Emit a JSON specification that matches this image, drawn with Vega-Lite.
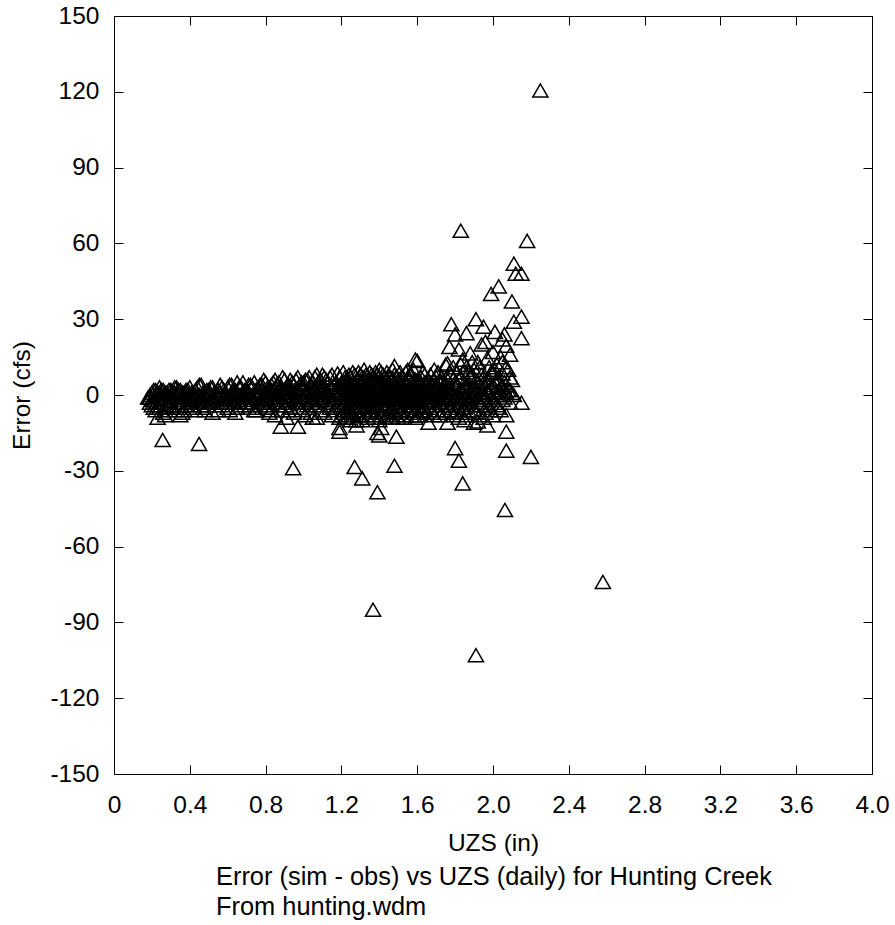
{
"$schema": "https://vega.github.io/schema/vega-lite/v6.json",
"width": 758, "height": 758,
"autosize": {"type": "none"},
"padding": {"left": 114, "top": 16, "right": 23, "bottom": 151},
"background": "white",
"config": {"view": {"stroke": "black", "strokeWidth": 1}, "font": "Liberation Sans"},
"title": {"text": ["Error (sim - obs) vs UZS (daily) for Hunting Creek", "From hunting.wdm"], "orient": "bottom", "anchor": "start", "frame": "group", "dx": 102, "offset": 10, "fontSize": 25.4, "fontWeight": "normal", "font": "Liberation Sans", "color": "black", "lineHeight": 30},
"data": {"values": [
{"uzs":0.18,"err":-1},{"uzs":0.20,"err":-2},{"uzs":0.20,"err":1},{"uzs":0.20,"err":-4},
{"uzs":0.22,"err":0},{"uzs":0.22,"err":-3},{"uzs":0.22,"err":2},{"uzs":0.22,"err":-6},
{"uzs":0.24,"err":-1},{"uzs":0.24,"err":1},{"uzs":0.24,"err":-5},{"uzs":0.24,"err":3},
{"uzs":0.26,"err":-2},{"uzs":0.26,"err":0},{"uzs":0.26,"err":-7},{"uzs":0.26,"err":2},
{"uzs":0.28,"err":-3},{"uzs":0.28,"err":1},{"uzs":0.28,"err":-1},{"uzs":0.28,"err":-5},
{"uzs":0.30,"err":0},{"uzs":0.30,"err":-4},{"uzs":0.30,"err":2},{"uzs":0.30,"err":-2},
{"uzs":0.32,"err":-1},{"uzs":0.32,"err":1},{"uzs":0.32,"err":-6},{"uzs":0.32,"err":3},
{"uzs":0.34,"err":-3},{"uzs":0.34,"err":0},{"uzs":0.34,"err":2},{"uzs":0.34,"err":-5},
{"uzs":0.36,"err":-2},{"uzs":0.36,"err":1},{"uzs":0.36,"err":-7},{"uzs":0.36,"err":0},
{"uzs":0.38,"err":-1},{"uzs":0.38,"err":2},{"uzs":0.38,"err":-4},{"uzs":0.38,"err":1},
{"uzs":0.40,"err":0},{"uzs":0.40,"err":-3},{"uzs":0.40,"err":3},{"uzs":0.40,"err":-1},
{"uzs":0.23,"err":-9},{"uzs":0.27,"err":-8},{"uzs":0.35,"err":-8},{"uzs":0.257,"err":-17.8},{"uzs":0.449,"err":-19.4},
{"uzs":0.42,"err":-2},{"uzs":0.42,"err":1},{"uzs":0.42,"err":-5},
{"uzs":0.44,"err":0},{"uzs":0.44,"err":3},{"uzs":0.44,"err":-3},
{"uzs":0.46,"err":-1},{"uzs":0.46,"err":4},{"uzs":0.46,"err":-4},
{"uzs":0.48,"err":1},{"uzs":0.48,"err":-2},{"uzs":0.48,"err":-6},
{"uzs":0.50,"err":0},{"uzs":0.50,"err":2},{"uzs":0.50,"err":-3},
{"uzs":0.52,"err":-1},{"uzs":0.52,"err":3},{"uzs":0.52,"err":-7},
{"uzs":0.54,"err":1},{"uzs":0.54,"err":-2},{"uzs":0.54,"err":0},
{"uzs":0.56,"err":-3},{"uzs":0.56,"err":4},{"uzs":0.56,"err":1},
{"uzs":0.58,"err":0},{"uzs":0.58,"err":-1},{"uzs":0.58,"err":2},
{"uzs":0.60,"err":-2},{"uzs":0.60,"err":3},{"uzs":0.60,"err":-5},
{"uzs":0.62,"err":1},{"uzs":0.62,"err":-1},{"uzs":0.62,"err":4},
{"uzs":0.64,"err":-3},{"uzs":0.64,"err":2},{"uzs":0.64,"err":-7},
{"uzs":0.66,"err":0},{"uzs":0.66,"err":3},{"uzs":0.66,"err":-2},
{"uzs":0.68,"err":-1},{"uzs":0.68,"err":5},{"uzs":0.68,"err":1},
{"uzs":0.70,"err":2},{"uzs":0.70,"err":-3},{"uzs":0.70,"err":-1},
{"uzs":0.72,"err":0},{"uzs":0.72,"err":4},{"uzs":0.72,"err":-4},
{"uzs":0.74,"err":1},{"uzs":0.74,"err":-2},{"uzs":0.74,"err":5},{"uzs":0.74,"err":-6},
{"uzs":0.76,"err":-1},{"uzs":0.76,"err":3},{"uzs":0.76,"err":0},
{"uzs":0.78,"err":2},{"uzs":0.78,"err":-3},{"uzs":0.78,"err":4},
{"uzs":0.80,"err":-2},{"uzs":0.80,"err":1},{"uzs":0.80,"err":5},{"uzs":0.80,"err":-5},
{"uzs":0.82,"err":0},{"uzs":0.82,"err":3},{"uzs":0.82,"err":-4},{"uzs":0.82,"err":-7},
{"uzs":0.84,"err":-2},{"uzs":0.84,"err":2},{"uzs":0.84,"err":5},
{"uzs":0.86,"err":1},{"uzs":0.86,"err":-3},{"uzs":0.86,"err":4},{"uzs":0.86,"err":-1},
{"uzs":0.88,"err":-1},{"uzs":0.88,"err":3},{"uzs":0.88,"err":-12.5},
{"uzs":0.90,"err":0},{"uzs":0.90,"err":6},{"uzs":0.90,"err":-4},{"uzs":0.90,"err":2},
{"uzs":0.92,"err":-2},{"uzs":0.92,"err":1},{"uzs":0.92,"err":4},{"uzs":0.92,"err":-6},
{"uzs":0.94,"err":1},{"uzs":0.94,"err":-1},{"uzs":0.94,"err":5},{"uzs":0.945,"err":-29},
{"uzs":0.96,"err":-3},{"uzs":0.96,"err":2},{"uzs":0.96,"err":6},{"uzs":0.97,"err":-12.5},
{"uzs":0.98,"err":0},{"uzs":0.98,"err":4},{"uzs":0.98,"err":-5},{"uzs":0.98,"err":1},
{"uzs":1.00,"err":-1},{"uzs":1.00,"err":3},{"uzs":1.00,"err":-2},{"uzs":1.00,"err":5},
{"uzs":1.02,"err":2},{"uzs":1.02,"err":-4},{"uzs":1.02,"err":0},{"uzs":1.02,"err":6},
{"uzs":1.04,"err":-2},{"uzs":1.04,"err":4},{"uzs":1.04,"err":1},{"uzs":1.04,"err":-7},
{"uzs":1.06,"err":0},{"uzs":1.06,"err":7},{"uzs":1.06,"err":-3},{"uzs":1.06,"err":2},
{"uzs":1.08,"err":-1},{"uzs":1.08,"err":3},{"uzs":1.07,"err":-9},{"uzs":1.08,"err":5},
{"uzs":1.10,"err":1},{"uzs":1.10,"err":-2},{"uzs":1.10,"err":8},{"uzs":1.10,"err":4},
{"uzs":1.12,"err":-3},{"uzs":1.12,"err":2},{"uzs":1.12,"err":0},{"uzs":1.12,"err":6},
{"uzs":1.14,"err":0},{"uzs":1.14,"err":-5},{"uzs":1.14,"err":3},{"uzs":1.14,"err":7},
{"uzs":1.16,"err":-2},{"uzs":1.16,"err":4},{"uzs":1.16,"err":1},{"uzs":1.16,"err":-6},
{"uzs":1.18,"err":1},{"uzs":1.18,"err":8.5},{"uzs":1.18,"err":-4},{"uzs":1.18,"err":3},
{"uzs":1.19,"err":-14.5},{"uzs":1.19,"err":-13},
{"uzs":1.20,"err":-1},{"uzs":1.20,"err":5},{"uzs":1.20,"err":-8},{"uzs":1.20,"err":2},
{"uzs":1.22,"err":0},{"uzs":1.22,"err":4},{"uzs":1.22,"err":-3},{"uzs":1.22,"err":7},{"uzs":1.22,"err":-6},{"uzs":1.22,"err":2},{"uzs":1.22,"err":-9},
{"uzs":1.24,"err":-1},{"uzs":1.24,"err":3},{"uzs":1.24,"err":-5},{"uzs":1.24,"err":8},{"uzs":1.24,"err":1},{"uzs":1.24,"err":-8},
{"uzs":1.26,"err":2},{"uzs":1.26,"err":-2},{"uzs":1.26,"err":5},{"uzs":1.26,"err":-7},{"uzs":1.26,"err":9},{"uzs":1.26,"err":0},{"uzs":1.26,"err":-4},
{"uzs":1.28,"err":-3},{"uzs":1.28,"err":1},{"uzs":1.28,"err":6},{"uzs":1.28,"err":-10},{"uzs":1.28,"err":3},{"uzs":1.28,"err":-1},{"uzs":1.28,"err":-12},
{"uzs":1.27,"err":-28.5},{"uzs":1.31,"err":-33},
{"uzs":1.30,"err":0},{"uzs":1.30,"err":4},{"uzs":1.30,"err":-5},{"uzs":1.30,"err":8},{"uzs":1.30,"err":-2},{"uzs":1.30,"err":2},{"uzs":1.30,"err":-8},
{"uzs":1.32,"err":1},{"uzs":1.32,"err":-3},{"uzs":1.32,"err":7},{"uzs":1.32,"err":-6},{"uzs":1.32,"err":3},{"uzs":1.32,"err":10},{"uzs":1.32,"err":-1},
{"uzs":1.34,"err":-2},{"uzs":1.34,"err":2},{"uzs":1.34,"err":5},{"uzs":1.34,"err":-9},{"uzs":1.34,"err":0},{"uzs":1.34,"err":6},{"uzs":1.34,"err":-4},
{"uzs":1.36,"err":0},{"uzs":1.36,"err":-5},{"uzs":1.36,"err":8},{"uzs":1.36,"err":3},{"uzs":1.36,"err":-7},{"uzs":1.36,"err":1},{"uzs":1.36,"err":-2},
{"uzs":1.367,"err":-85},
{"uzs":1.38,"err":2},{"uzs":1.38,"err":-1},{"uzs":1.38,"err":6},{"uzs":1.38,"err":-8},{"uzs":1.38,"err":4},{"uzs":1.38,"err":-4},{"uzs":1.38,"err":9},
{"uzs":1.39,"err":-38.5},{"uzs":1.39,"err":-15},{"uzs":1.41,"err":-13},{"uzs":1.40,"err":-16},
{"uzs":1.40,"err":-1},{"uzs":1.40,"err":3},{"uzs":1.40,"err":-6},{"uzs":1.40,"err":7},{"uzs":1.40,"err":0},{"uzs":1.40,"err":-10},{"uzs":1.40,"err":10},
{"uzs":1.42,"err":1},{"uzs":1.42,"err":-3},{"uzs":1.42,"err":5},{"uzs":1.42,"err":-5},{"uzs":1.42,"err":8},{"uzs":1.42,"err":2},{"uzs":1.42,"err":-1},
{"uzs":1.44,"err":-2},{"uzs":1.44,"err":4},{"uzs":1.44,"err":0},{"uzs":1.44,"err":-8},{"uzs":1.44,"err":6},{"uzs":1.44,"err":-4},{"uzs":1.44,"err":9},
{"uzs":1.46,"err":0},{"uzs":1.46,"err":2},{"uzs":1.46,"err":-6},{"uzs":1.46,"err":7},{"uzs":1.46,"err":-2},{"uzs":1.46,"err":3},{"uzs":1.46,"err":-9},
{"uzs":1.48,"err":1},{"uzs":1.48,"err":-4},{"uzs":1.48,"err":5},{"uzs":1.48,"err":11.5},{"uzs":1.48,"err":-1},{"uzs":1.48,"err":-7},{"uzs":1.48,"err":8},
{"uzs":1.48,"err":-28},{"uzs":1.49,"err":-16.5},
{"uzs":1.50,"err":-2},{"uzs":1.50,"err":3},{"uzs":1.50,"err":-5},{"uzs":1.50,"err":6},{"uzs":1.50,"err":0},{"uzs":1.50,"err":-9},{"uzs":1.50,"err":2},
{"uzs":1.52,"err":0},{"uzs":1.52,"err":-3},{"uzs":1.52,"err":7},{"uzs":1.52,"err":4},{"uzs":1.52,"err":-6},{"uzs":1.52,"err":1},{"uzs":1.52,"err":-1},
{"uzs":1.54,"err":2},{"uzs":1.54,"err":-2},{"uzs":1.54,"err":5},{"uzs":1.54,"err":-8},{"uzs":1.54,"err":9},{"uzs":1.54,"err":-4},{"uzs":1.54,"err":0},
{"uzs":1.56,"err":-1},{"uzs":1.56,"err":3},{"uzs":1.56,"err":-6},{"uzs":1.56,"err":6},{"uzs":1.56,"err":1},{"uzs":1.56,"err":-3},{"uzs":1.56,"err":8},
{"uzs":1.58,"err":0},{"uzs":1.58,"err":-4},{"uzs":1.58,"err":4},{"uzs":1.58,"err":-7},{"uzs":1.58,"err":10},{"uzs":1.58,"err":2},{"uzs":1.58,"err":-2},
{"uzs":1.60,"err":1},{"uzs":1.60,"err":-1},{"uzs":1.60,"err":6},{"uzs":1.60,"err":-5},{"uzs":1.60,"err":3},{"uzs":1.60,"err":-8},{"uzs":1.60,"err":13.5},
{"uzs":1.59,"err":14},
{"uzs":1.62,"err":0},{"uzs":1.62,"err":-3},{"uzs":1.62,"err":4},{"uzs":1.62,"err":-6},{"uzs":1.62,"err":7},
{"uzs":1.64,"err":-1},{"uzs":1.64,"err":2},{"uzs":1.64,"err":-5},{"uzs":1.64,"err":5},{"uzs":1.64,"err":8},
{"uzs":1.66,"err":1},{"uzs":1.66,"err":-2},{"uzs":1.66,"err":3},{"uzs":1.66,"err":-11},{"uzs":1.66,"err":6},
{"uzs":1.68,"err":-2},{"uzs":1.68,"err":4},{"uzs":1.68,"err":0},{"uzs":1.68,"err":-7},{"uzs":1.69,"err":10},
{"uzs":1.70,"err":0},{"uzs":1.70,"err":-4},{"uzs":1.70,"err":3},{"uzs":1.70,"err":7},{"uzs":1.70,"err":-1},
{"uzs":1.72,"err":1},{"uzs":1.72,"err":-3},{"uzs":1.72,"err":5},{"uzs":1.72,"err":-8},{"uzs":1.72,"err":2},
{"uzs":1.74,"err":-1},{"uzs":1.74,"err":2},{"uzs":1.74,"err":-6},{"uzs":1.75,"err":12},{"uzs":1.74,"err":4},
{"uzs":1.76,"err":0},{"uzs":1.76,"err":-2},{"uzs":1.76,"err":6},{"uzs":1.76,"err":-11},{"uzs":1.76,"err":12.5},
{"uzs":1.77,"err":19},
{"uzs":1.78,"err":2},{"uzs":1.78,"err":-4},{"uzs":1.78,"err":1},{"uzs":1.78,"err":8},{"uzs":1.78,"err":-6},{"uzs":1.78,"err":28},
{"uzs":1.80,"err":-1},{"uzs":1.80,"err":3},{"uzs":1.80,"err":-7},{"uzs":1.80,"err":5},{"uzs":1.80,"err":24},{"uzs":1.80,"err":-21},
{"uzs":1.82,"err":0},{"uzs":1.82,"err":-3},{"uzs":1.82,"err":6},{"uzs":1.82,"err":18},{"uzs":1.82,"err":-26},{"uzs":1.83,"err":65},{"uzs":1.82,"err":-9},
{"uzs":1.84,"err":2},{"uzs":1.84,"err":-5},{"uzs":1.84,"err":9},{"uzs":1.84,"err":1},{"uzs":1.84,"err":-35},{"uzs":1.84,"err":14},
{"uzs":1.85,"err":-10},
{"uzs":1.86,"err":-1},{"uzs":1.86,"err":4},{"uzs":1.86,"err":-8},{"uzs":1.86,"err":24.5},{"uzs":1.86,"err":11},
{"uzs":1.88,"err":0},{"uzs":1.88,"err":-3},{"uzs":1.88,"err":7},{"uzs":1.88,"err":16.5},{"uzs":1.88,"err":-2},
{"uzs":1.90,"err":1},{"uzs":1.90,"err":-6},{"uzs":1.90,"err":10},{"uzs":1.90,"err":3},{"uzs":1.90,"err":-11},
{"uzs":1.91,"err":-103},{"uzs":1.91,"err":30},
{"uzs":1.92,"err":-2},{"uzs":1.92,"err":5},{"uzs":1.92,"err":-10.5},{"uzs":1.92,"err":13},
{"uzs":1.94,"err":0},{"uzs":1.94,"err":8},{"uzs":1.94,"err":-4},{"uzs":1.94,"err":20},{"uzs":1.94,"err":2},
{"uzs":1.95,"err":27},
{"uzs":1.96,"err":-1},{"uzs":1.96,"err":3},{"uzs":1.96,"err":21},{"uzs":1.96,"err":-7},
{"uzs":1.97,"err":14.5},{"uzs":1.97,"err":-12},
{"uzs":1.98,"err":1},{"uzs":1.98,"err":-5},{"uzs":1.98,"err":11},{"uzs":1.98,"err":6},
{"uzs":1.99,"err":40},
{"uzs":2.00,"err":-2},{"uzs":2.00,"err":4},{"uzs":2.00,"err":9},{"uzs":2.00,"err":-8},{"uzs":2.00,"err":17},
{"uzs":2.01,"err":25},
{"uzs":2.02,"err":0},{"uzs":2.02,"err":6},{"uzs":2.02,"err":-4},{"uzs":2.02,"err":12},
{"uzs":2.03,"err":43},
{"uzs":2.04,"err":15},{"uzs":2.04,"err":3},{"uzs":2.04,"err":-6},
{"uzs":2.05,"err":8.5},{"uzs":2.05,"err":22},
{"uzs":2.06,"err":24},{"uzs":2.06,"err":-1},{"uzs":2.07,"err":-14.5},{"uzs":2.06,"err":5},
{"uzs":2.063,"err":-45.5},
{"uzs":2.07,"err":19.5},{"uzs":2.07,"err":-8},{"uzs":2.07,"err":-22},
{"uzs":2.08,"err":2},{"uzs":2.08,"err":10},
{"uzs":2.10,"err":37},{"uzs":2.10,"err":0.8},{"uzs":2.10,"err":6},
{"uzs":2.11,"err":52},{"uzs":2.11,"err":29},{"uzs":2.11,"err":0},
{"uzs":2.12,"err":48},
{"uzs":2.15,"err":48},{"uzs":2.15,"err":31},{"uzs":2.15,"err":22.5},{"uzs":2.15,"err":-3},
{"uzs":2.18,"err":61},{"uzs":2.20,"err":-24.5},{"uzs":2.25,"err":120.5},{"uzs":2.58,"err":-74},
{"uzs":0.19,"err":0},{"uzs":0.19,"err":-3},{"uzs":0.19,"err":-1},
{"uzs":0.21,"err":-2},{"uzs":0.21,"err":2},{"uzs":0.21,"err":-5},
{"uzs":0.23,"err":1},{"uzs":0.23,"err":-4},{"uzs":0.23,"err":-1},
{"uzs":0.25,"err":-3},{"uzs":0.25,"err":0},{"uzs":0.25,"err":2},
{"uzs":0.27,"err":-1},{"uzs":0.27,"err":-6},{"uzs":0.27,"err":1},
{"uzs":0.29,"err":2},{"uzs":0.29,"err":-2},{"uzs":0.29,"err":-4},
{"uzs":0.31,"err":-1},{"uzs":0.31,"err":1},{"uzs":0.31,"err":-5},
{"uzs":0.33,"err":0},{"uzs":0.33,"err":-3},{"uzs":0.33,"err":3},
{"uzs":0.35,"err":-2},{"uzs":0.35,"err":2},{"uzs":0.35,"err":-4},
{"uzs":0.37,"err":1},{"uzs":0.37,"err":-1},{"uzs":0.37,"err":-6},
{"uzs":0.39,"err":-3},{"uzs":0.39,"err":0},{"uzs":0.39,"err":2},
{"uzs":0.41,"err":1},{"uzs":0.41,"err":-2},{"uzs":0.41,"err":-4},
{"uzs":0.43,"err":-1},{"uzs":0.43,"err":2},{"uzs":0.43,"err":-6},
{"uzs":0.45,"err":0},{"uzs":0.45,"err":-3},{"uzs":0.45,"err":4},
{"uzs":0.47,"err":-2},{"uzs":0.47,"err":1},{"uzs":0.47,"err":-5},
{"uzs":0.49,"err":2},{"uzs":0.49,"err":-1},{"uzs":0.49,"err":-4},
{"uzs":0.51,"err":-3},{"uzs":0.51,"err":0},{"uzs":0.51,"err":3},
{"uzs":0.53,"err":1},{"uzs":0.53,"err":-4},{"uzs":0.53,"err":-2},
{"uzs":0.55,"err":0},{"uzs":0.55,"err":2},{"uzs":0.55,"err":-6},
{"uzs":0.57,"err":-2},{"uzs":0.57,"err":3},{"uzs":0.57,"err":-4},
{"uzs":0.59,"err":1},{"uzs":0.59,"err":-3},{"uzs":0.59,"err":0},
{"uzs":0.61,"err":-1},{"uzs":0.61,"err":4},{"uzs":0.61,"err":-6},
{"uzs":0.63,"err":2},{"uzs":0.63,"err":0},{"uzs":0.63,"err":-3},
{"uzs":0.65,"err":-2},{"uzs":0.65,"err":5},{"uzs":0.65,"err":-5},
{"uzs":0.67,"err":0},{"uzs":0.67,"err":-4},{"uzs":0.67,"err":3},
{"uzs":0.69,"err":-3},{"uzs":0.69,"err":2},{"uzs":0.69,"err":-1},
{"uzs":0.71,"err":1},{"uzs":0.71,"err":-5},{"uzs":0.71,"err":4},
{"uzs":0.73,"err":-1},{"uzs":0.73,"err":3},{"uzs":0.73,"err":-3},
{"uzs":0.75,"err":2},{"uzs":0.75,"err":-6},{"uzs":0.75,"err":0},
{"uzs":0.77,"err":-2},{"uzs":0.77,"err":4},{"uzs":0.77,"err":-4},
{"uzs":0.79,"err":0},{"uzs":0.79,"err":-1},{"uzs":0.79,"err":6},
{"uzs":0.81,"err":3},{"uzs":0.81,"err":-5},{"uzs":0.81,"err":-2},{"uzs":0.81,"err":1},
{"uzs":0.83,"err":-1},{"uzs":0.83,"err":4},{"uzs":0.83,"err":-6},{"uzs":0.83,"err":2},
{"uzs":0.85,"err":0},{"uzs":0.85,"err":-3},{"uzs":0.85,"err":6},{"uzs":0.85,"err":-8},
{"uzs":0.87,"err":2},{"uzs":0.87,"err":-1},{"uzs":0.87,"err":5},{"uzs":0.87,"err":-4},
{"uzs":0.89,"err":-3},{"uzs":0.89,"err":1},{"uzs":0.89,"err":7},{"uzs":0.89,"err":-6},
{"uzs":0.91,"err":0},{"uzs":0.91,"err":3},{"uzs":0.91,"err":-2},{"uzs":0.91,"err":-9},
{"uzs":0.93,"err":1},{"uzs":0.93,"err":-5},{"uzs":0.93,"err":6},{"uzs":0.93,"err":3},
{"uzs":0.95,"err":-2},{"uzs":0.95,"err":0},{"uzs":0.95,"err":4},{"uzs":0.95,"err":-7},
{"uzs":0.97,"err":2},{"uzs":0.97,"err":-3},{"uzs":0.97,"err":7},{"uzs":0.97,"err":-1},
{"uzs":0.99,"err":-1},{"uzs":0.99,"err":5},{"uzs":0.99,"err":-6},{"uzs":0.99,"err":3},
{"uzs":1.01,"err":0},{"uzs":1.01,"err":-3},{"uzs":1.01,"err":6},{"uzs":1.01,"err":-8},
{"uzs":1.03,"err":3},{"uzs":1.03,"err":-1},{"uzs":1.03,"err":-5},{"uzs":1.03,"err":7},
{"uzs":1.05,"err":-2},{"uzs":1.05,"err":1},{"uzs":1.05,"err":5},{"uzs":1.05,"err":-9},
{"uzs":1.07,"err":0},{"uzs":1.07,"err":4},{"uzs":1.07,"err":-4},{"uzs":1.07,"err":8},
{"uzs":1.09,"err":2},{"uzs":1.09,"err":-2},{"uzs":1.09,"err":6},{"uzs":1.09,"err":-6},
{"uzs":1.11,"err":-1},{"uzs":1.11,"err":3},{"uzs":1.11,"err":-7},{"uzs":1.11,"err":7},
{"uzs":1.13,"err":1},{"uzs":1.13,"err":-4},{"uzs":1.13,"err":5},{"uzs":1.13,"err":-2},
{"uzs":1.15,"err":-3},{"uzs":1.15,"err":2},{"uzs":1.15,"err":8},{"uzs":1.15,"err":-8},
{"uzs":1.17,"err":0},{"uzs":1.17,"err":5},{"uzs":1.17,"err":-5},{"uzs":1.17,"err":2},
{"uzs":1.19,"err":-2},{"uzs":1.19,"err":3},{"uzs":1.19,"err":-9},{"uzs":1.19,"err":7},
{"uzs":1.21,"err":1},{"uzs":1.21,"err":-3},{"uzs":1.21,"err":5},{"uzs":1.21,"err":-7},{"uzs":1.21,"err":9},{"uzs":1.21,"err":-1},{"uzs":1.21,"err":3},
{"uzs":1.23,"err":-2},{"uzs":1.23,"err":2},{"uzs":1.23,"err":6},{"uzs":1.23,"err":-9},{"uzs":1.23,"err":0},{"uzs":1.23,"err":-5},{"uzs":1.23,"err":4},
{"uzs":1.25,"err":0},{"uzs":1.25,"err":-4},{"uzs":1.25,"err":7},{"uzs":1.25,"err":3},{"uzs":1.25,"err":-7},{"uzs":1.25,"err":1},{"uzs":1.25,"err":-10},
{"uzs":1.27,"err":2},{"uzs":1.27,"err":-1},{"uzs":1.27,"err":4},{"uzs":1.27,"err":-6},{"uzs":1.27,"err":8},{"uzs":1.27,"err":-3},{"uzs":1.27,"err":0},
{"uzs":1.29,"err":-1},{"uzs":1.29,"err":3},{"uzs":1.29,"err":-8},{"uzs":1.29,"err":6},{"uzs":1.29,"err":1},{"uzs":1.29,"err":-4},{"uzs":1.29,"err":9},
{"uzs":1.31,"err":0},{"uzs":1.31,"err":-2},{"uzs":1.31,"err":5},{"uzs":1.31,"err":-6},{"uzs":1.31,"err":2},{"uzs":1.31,"err":7},{"uzs":1.31,"err":-10},
{"uzs":1.33,"err":1},{"uzs":1.33,"err":-5},{"uzs":1.33,"err":3},{"uzs":1.33,"err":-8},{"uzs":1.33,"err":8},{"uzs":1.33,"err":-1},{"uzs":1.33,"err":4},
{"uzs":1.35,"err":-2},{"uzs":1.35,"err":2},{"uzs":1.35,"err":6},{"uzs":1.35,"err":-4},{"uzs":1.35,"err":0},{"uzs":1.35,"err":9},{"uzs":1.35,"err":-7},
{"uzs":1.37,"err":0},{"uzs":1.37,"err":-3},{"uzs":1.37,"err":4},{"uzs":1.37,"err":-9},{"uzs":1.37,"err":7},{"uzs":1.37,"err":2},{"uzs":1.37,"err":-1},
{"uzs":1.39,"err":1},{"uzs":1.39,"err":-6},{"uzs":1.39,"err":5},{"uzs":1.39,"err":3},{"uzs":1.39,"err":-2},{"uzs":1.39,"err":8},{"uzs":1.39,"err":-4},
{"uzs":1.41,"err":-1},{"uzs":1.41,"err":2},{"uzs":1.41,"err":-7},{"uzs":1.41,"err":6},{"uzs":1.41,"err":0},{"uzs":1.41,"err":-4},{"uzs":1.41,"err":9},
{"uzs":1.43,"err":2},{"uzs":1.43,"err":-2},{"uzs":1.43,"err":4},{"uzs":1.43,"err":-9},{"uzs":1.43,"err":7},{"uzs":1.43,"err":-5},{"uzs":1.43,"err":1},
{"uzs":1.45,"err":0},{"uzs":1.45,"err":3},{"uzs":1.45,"err":-4},{"uzs":1.45,"err":8},{"uzs":1.45,"err":-7},{"uzs":1.45,"err":-1},{"uzs":1.45,"err":5},
{"uzs":1.47,"err":-2},{"uzs":1.47,"err":1},{"uzs":1.47,"err":6},{"uzs":1.47,"err":-6},{"uzs":1.47,"err":3},{"uzs":1.47,"err":-9},{"uzs":1.47,"err":10},
{"uzs":1.49,"err":1},{"uzs":1.49,"err":-3},{"uzs":1.49,"err":4},{"uzs":1.49,"err":-5},{"uzs":1.49,"err":7},{"uzs":1.49,"err":0},{"uzs":1.49,"err":-8},
{"uzs":1.51,"err":-1},{"uzs":1.51,"err":2},{"uzs":1.51,"err":-7},{"uzs":1.51,"err":9},{"uzs":1.51,"err":5},{"uzs":1.51,"err":-3},{"uzs":1.51,"err":0},
{"uzs":1.53,"err":0},{"uzs":1.53,"err":-4},{"uzs":1.53,"err":3},{"uzs":1.53,"err":6},{"uzs":1.53,"err":-9},{"uzs":1.53,"err":1},{"uzs":1.53,"err":-2},
{"uzs":1.55,"err":2},{"uzs":1.55,"err":-1},{"uzs":1.55,"err":7},{"uzs":1.55,"err":-6},{"uzs":1.55,"err":4},{"uzs":1.55,"err":-3},{"uzs":1.55,"err":10},
{"uzs":1.57,"err":-2},{"uzs":1.57,"err":1},{"uzs":1.57,"err":-5},{"uzs":1.57,"err":5},{"uzs":1.57,"err":8},{"uzs":1.57,"err":-8},{"uzs":1.57,"err":0},
{"uzs":1.59,"err":1},{"uzs":1.59,"err":-3},{"uzs":1.59,"err":3},{"uzs":1.59,"err":-6},{"uzs":1.59,"err":6},{"uzs":1.59,"err":-1},{"uzs":1.59,"err":-9},
{"uzs":1.61,"err":0},{"uzs":1.61,"err":2},{"uzs":1.61,"err":-4},{"uzs":1.61,"err":6},{"uzs":1.61,"err":-8},
{"uzs":1.63,"err":-1},{"uzs":1.63,"err":4},{"uzs":1.63,"err":-6},{"uzs":1.63,"err":1},{"uzs":1.63,"err":9},
{"uzs":1.65,"err":2},{"uzs":1.65,"err":-3},{"uzs":1.65,"err":5},{"uzs":1.65,"err":-7},{"uzs":1.65,"err":-1},
{"uzs":1.67,"err":0},{"uzs":1.67,"err":-5},{"uzs":1.67,"err":3},{"uzs":1.67,"err":8},{"uzs":1.67,"err":-2},
{"uzs":1.69,"err":1},{"uzs":1.69,"err":-2},{"uzs":1.69,"err":6},{"uzs":1.69,"err":-8},{"uzs":1.69,"err":4},
{"uzs":1.71,"err":-1},{"uzs":1.71,"err":3},{"uzs":1.71,"err":-6},{"uzs":1.71,"err":9},{"uzs":1.71,"err":0},
{"uzs":1.73,"err":2},{"uzs":1.73,"err":-4},{"uzs":1.73,"err":5},{"uzs":1.73,"err":-2},{"uzs":1.73,"err":7},
{"uzs":1.75,"err":0},{"uzs":1.75,"err":-3},{"uzs":1.75,"err":4},{"uzs":1.75,"err":-7},{"uzs":1.75,"err":2},
{"uzs":1.77,"err":-1},{"uzs":1.77,"err":3},{"uzs":1.77,"err":-5},{"uzs":1.77,"err":9},{"uzs":1.77,"err":1},
{"uzs":1.79,"err":1},{"uzs":1.79,"err":-2},{"uzs":1.79,"err":6},{"uzs":1.79,"err":-8},{"uzs":1.79,"err":11},
{"uzs":1.81,"err":0},{"uzs":1.81,"err":-4},{"uzs":1.81,"err":4},{"uzs":1.81,"err":9},{"uzs":1.81,"err":-6},
{"uzs":1.83,"err":2},{"uzs":1.83,"err":-1},{"uzs":1.83,"err":7},{"uzs":1.83,"err":-7},{"uzs":1.83,"err":12},
{"uzs":1.85,"err":-1},{"uzs":1.85,"err":3},{"uzs":1.85,"err":-5},{"uzs":1.85,"err":5},
{"uzs":1.87,"err":1},{"uzs":1.87,"err":-2},{"uzs":1.87,"err":9},{"uzs":1.87,"err":-6},{"uzs":1.87,"err":4},
{"uzs":1.89,"err":0},{"uzs":1.89,"err":3},{"uzs":1.89,"err":-4},{"uzs":1.89,"err":8},{"uzs":1.89,"err":13},
{"uzs":1.91,"err":-1},{"uzs":1.91,"err":2},{"uzs":1.91,"err":-7},{"uzs":1.91,"err":6},
{"uzs":1.93,"err":1},{"uzs":1.93,"err":-3},{"uzs":1.93,"err":4},{"uzs":1.93,"err":11},{"uzs":1.93,"err":-8},
{"uzs":1.95,"err":0},{"uzs":1.95,"err":5},{"uzs":1.95,"err":-2},{"uzs":1.95,"err":-9},{"uzs":1.95,"err":7},
{"uzs":1.97,"err":2},{"uzs":1.97,"err":-4},{"uzs":1.97,"err":6},{"uzs":1.97,"err":1},
{"uzs":1.99,"err":-1},{"uzs":1.99,"err":3},{"uzs":1.99,"err":9},{"uzs":1.99,"err":-6},
{"uzs":2.01,"err":1},{"uzs":2.01,"err":-3},{"uzs":2.01,"err":5},{"uzs":2.01,"err":10},
{"uzs":2.03,"err":0},{"uzs":2.03,"err":6},{"uzs":2.03,"err":-5},{"uzs":2.03,"err":2},
{"uzs":2.05,"err":-2},{"uzs":2.05,"err":3},{"uzs":2.05,"err":13},{"uzs":2.05,"err":0},
{"uzs":2.07,"err":4},{"uzs":2.07,"err":11},{"uzs":2.07,"err":1},
{"uzs":2.09,"err":-3},{"uzs":2.09,"err":7},{"uzs":2.09,"err":2},{"uzs":2.09,"err":16}
]},
"layer": [
{"mark": {"type": "point", "shape": "triangle-up", "size": 230, "filled": false, "stroke": "black", "strokeWidth": 1.5, "opacity": 1},
 "encoding": {
  "x": {"field": "uzs", "type": "quantitative", "scale": {"domain": [0, 4], "nice": false, "zero": false},
   "axis": {"orient": "bottom", "offset": -9, "values": [0,0.4,0.8,1.2,1.6,2.0,2.4,2.8,3.2,3.6,4.0], "labelExpr": "datum.value == 0 ? '0' : format(datum.value, '.1f')", "grid": false, "domain": false, "tickColor": "black", "tickWidth": 1, "tickSize": 9, "labelPadding": 19, "labelFontSize": 24.5, "labelFont": "Liberation Sans", "labelColor": "black", "labelFlush": false, "labelOverlap": false, "title": "UZS (in)", "titleFontSize": 24.5, "titleFont": "Liberation Sans", "titleFontWeight": "normal", "titleColor": "black", "titlePadding": 15}},
  "y": {"field": "err", "type": "quantitative", "scale": {"domain": [-150, 150], "nice": false, "zero": false},
   "axis": {"orient": "left", "offset": -9, "values": [-150,-120,-90,-60,-30,0,30,60,90,120,150], "labelExpr": "datum.value + ''", "grid": false, "domain": false, "tickColor": "black", "tickWidth": 1, "tickSize": 9, "labelPadding": 15, "labelFontSize": 24.5, "labelFont": "Liberation Sans", "labelColor": "black", "labelFlush": false, "labelOverlap": false, "title": "Error (cfs)", "titleFontSize": 24.5, "titleFont": "Liberation Sans", "titleFontWeight": "normal", "titleColor": "black", "titlePadding": 15}}
 }},
{"mark": {"type": "point", "opacity": 0},
 "encoding": {
  "x": {"field": "uzs", "type": "quantitative", "scale": {"domain": [0, 4], "nice": false, "zero": false},
   "axis": {"orient": "top", "offset": -9, "values": [0,0.4,0.8,1.2,1.6,2.0,2.4,2.8,3.2,3.6,4.0], "labels": false, "title": null, "grid": false, "domain": false, "tickColor": "black", "tickWidth": 1, "tickSize": 9}},
  "y": {"field": "err", "type": "quantitative", "scale": {"domain": [-150, 150], "nice": false, "zero": false},
   "axis": {"orient": "right", "offset": -9, "values": [-150,-120,-90,-60,-30,0,30,60,90,120,150], "labels": false, "title": null, "grid": false, "domain": false, "tickColor": "black", "tickWidth": 1, "tickSize": 9}}
 }}
],
"resolve": {"axis": {"x": "independent", "y": "independent"}}
}
